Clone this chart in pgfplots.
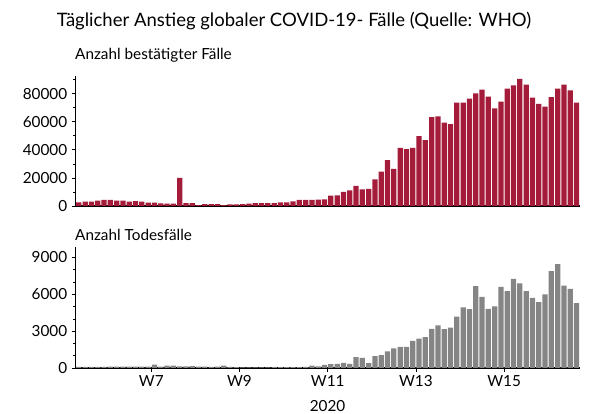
\documentclass[border=0pt]{standalone}
\usepackage{fontspec}
\setmainfont{Lato}
\usepackage{pgfplots}
\pgfplotsset{compat=1.18}
\definecolor{crim}{HTML}{A51C3A}
\definecolor{grb}{HTML}{858585}
\begin{document}
\begin{tikzpicture}
\useasboundingbox (0pt,0pt) rectangle (596pt,414pt);
\pgfplotsset{
  base/.style={
    scale only axis, width=504pt,
    xmin=-0.5, xmax=79.5,
    axis x line*=bottom, axis y line*=left,
    x axis line style={line width=1.3pt,-},
    y axis line style={line width=0.6pt,-},
    ybar, bar width=0.84,
    tick align=outside,
    major tick length=4pt, minor tick length=2.5pt,
    tick style={black, line width=0.6pt},
    every tick label/.append style={font=\fontsize{15.3}{17}\selectfont},
    yticklabel style={xshift=-1pt},
    /pgf/number format/assume math mode=true,
    /pgf/number format/set thousands separator={},
    scaled y ticks=false,
  }
}
\node[anchor=base, font=\fontsize{18.5}{21}\selectfont] at (294pt,387pt) {Täglicher Anstieg globaler COVID-19- Fälle (Quelle: WHO)};
\node[anchor=base west, inner sep=0pt, font=\fontsize{15.3}{18}\selectfont] at (75pt,354pt) {Anzahl bestätigter Fälle};
\node[anchor=base west, inner sep=0pt, font=\fontsize{15.3}{18}\selectfont] at (75pt,173pt) {Anzahl Todesfälle};
\node[font=\fontsize{15.3}{17}\selectfont] at (327.5pt,8pt) {2020};

\begin{axis}[base, at={(75.7pt,208pt)}, anchor=south west, height=130pt,
  ymin=0, ymax=92500,
  ytick={0,20000,40000,60000,80000},
  minor ytick={10000,30000,50000,70000,90000},
  xtick=\empty]
\addplot[fill=crim, draw=none] coordinates {
(0,2600)(1,3100)(2,3100)(3,3800)(4,4400)(5,4300)(6,3800)(7,3800)(8,3100)(9,3500)
(10,3100)(11,2400)(12,2400)(13,1900)(14,1700)(15,1600)(16,20000)(17,2100)(18,2100)(19,700)
(20,1400)(21,1400)(22,1400)(23,700)(24,1200)(25,1200)(26,1400)(27,1700)(28,2100)(29,2100)
(30,2100)(31,2100)(32,2600)(33,2600)(34,3300)(35,4300)(36,4300)(37,4300)(38,4500)(39,4800)
(40,7300)(41,7600)(42,10000)(43,11200)(44,14300)(45,11900)(46,12100)(47,19000)(48,24500)(49,32600)
(50,26400)(51,41400)(52,40500)(53,41400)(54,49700)(55,46900)(56,63300)(57,63800)(58,59300)(59,58300)
(60,73500)(61,73500)(62,76400)(63,80200)(64,82800)(65,77800)(66,69500)(67,74300)(68,83500)(69,85900)
(70,90400)(71,86400)(72,77100)(73,72600)(74,70700)(75,77400)(76,83500)(77,86400)(78,82300)(79,73500)
};
\end{axis}

\begin{axis}[base, at={(75.7pt,46pt)}, anchor=south west, height=121pt,
  ymin=0, ymax=9850,
  ytick={0,3000,6000,9000},
  minor ytick={1000,2000,4000,5000,7000,8000},
  xtick={11.5,25.5,39.5,53.5,67.5},
  xticklabels={W7,W9,W11,W13,W15}]
\addplot[fill=grb, draw=none] coordinates {
(0,100)(1,100)(2,100)(3,100)(4,100)(5,110)(6,110)(7,110)(8,110)(9,110)
(10,110)(11,110)(12,270)(13,120)(14,190)(15,190)(16,140)(17,130)(18,160)(19,110)
(20,110)(21,100)(22,110)(23,190)(24,100)(25,70)(26,60)(27,60)(28,60)(29,60)
(30,60)(31,70)(32,70)(33,80)(34,80)(35,80)(36,90)(37,190)(38,140)(39,250)
(40,320)(41,330)(42,420)(43,340)(44,880)(45,820)(46,390)(47,970)(48,1050)(49,1350)
(50,1600)(51,1720)(52,1720)(53,2210)(54,2400)(55,2510)(56,3180)(57,3460)(58,3160)(59,3280)
(60,4190)(61,4940)(62,4790)(63,6670)(64,5780)(65,4810)(66,5020)(67,6600)(68,6260)(69,7260)
(70,6890)(71,6260)(72,5700)(73,5370)(74,5990)(75,7880)(76,8450)(77,6700)(78,6450)(79,5290)
};
\end{axis}
\end{tikzpicture}
\end{document}
